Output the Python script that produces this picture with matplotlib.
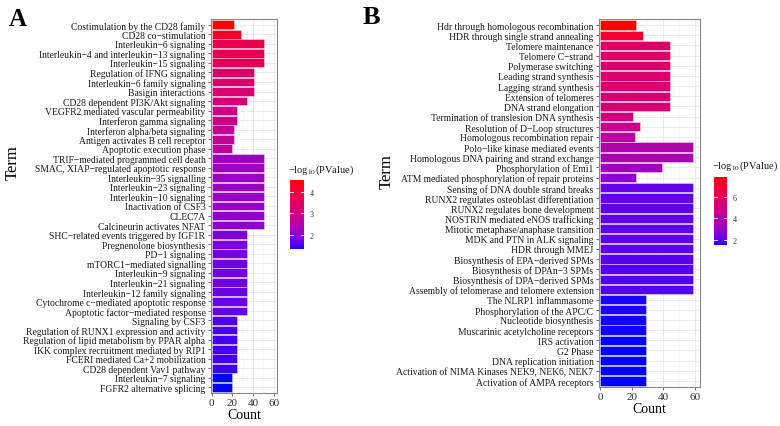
import numpy as np
import matplotlib
matplotlib.use("Agg")
import matplotlib.pyplot as plt
from matplotlib.colors import ListedColormap, Normalize
from matplotlib.cm import ScalarMappable

plt.rcParams['font.family'] = ['Liberation Serif', 'DejaVu Serif']
plt.rcParams['mathtext.fontset'] = 'stix'

# ---------------- data ----------------
terms_a = [
    "Costimulation by the CD28 family", "CD28 co\u2212stimulation", "Interleukin\u22126 signaling",
    "Interleukin\u22124 and interleukin\u221213 signaling", "Interleukin\u221215 signaling",
    "Regulation of IFNG signaling", "Interleukin\u22126 family signaling", "Basigin interactions",
    "CD28 dependent PI3K/Akt signaling", "VEGFR2 mediated vascular permeability",
    "Interferon gamma signaling", "Interferon alpha/beta signaling", "Antigen activates B cell receptor",
    "Apoptotic execution phase", "TRIF\u2212mediated programmed cell death",
    "SMAC, XIAP\u2212regulated apoptotic response", "Interleukin\u221235 signalling",
    "Interleukin\u221223 signaling", "Interleukin\u221210 signaling", "Inactivation of CSF3", "CLEC7A",
    "Calcineurin activates NFAT", "SHC\u2212related events triggered by IGF1R", "Pregnenolone biosynthesis",
    "PD\u22121 signaling", "mTORC1\u2212mediated signalling", "Interleukin\u22129 signaling",
    "Interleukin\u221221 signaling", "Interleukin\u221212 family signaling",
    "Cytochrome c\u2212mediated apoptotic response", "Apoptotic factor\u2212mediated response",
    "Signaling by CSF3", "Regulation of RUNX1 expression and activity",
    "Regulation of lipid metabolism by PPAR alpha", "IKK complex recruitment mediated by RIP1",
    "FCERI mediated Ca+2 mobilization", "CD28 dependent Vav1 pathway", "Interleukin\u22127 signaling",
    "FGFR2 alternative splicing",
]
count_a = [22, 28, 51, 51, 51, 41, 41, 41, 34, 25, 25, 22, 22, 20,
           51, 51, 51, 51, 51, 51, 51, 51,
           34, 34, 34, 34, 34, 34, 34, 34, 34,
           25, 25, 25, 25, 25, 25, 20, 20]
logp_a = [4.55, 4.25, 3.75, 3.7, 3.65, 3.4, 3.35, 3.3, 3.15, 3.0, 2.95, 2.85, 2.8, 2.7,
          2.2, 2.18, 2.15, 2.12, 2.1, 2.08, 2.05, 2.02,
          1.82, 1.8, 1.78, 1.76, 1.74, 1.72, 1.7, 1.68, 1.66,
          1.52, 1.51, 1.5, 1.49, 1.48, 1.47, 1.36, 1.35]

terms_b = [
    "Hdr through homologous recombination", "HDR through single strand annealing",
    "Telomere maintenance", "Telomere C\u2212strand", "Polymerase switching", "Leading strand synthesis",
    "Lagging strand synthesis", "Extension of telomeres", "DNA strand elongation",
    "Termination of translesion DNA synthesis", "Resolution of D\u2212Loop structures",
    "Homologous recombination repair", "Polo\u2212like kinase mediated events",
    "Homologous DNA pairing and strand exchange", "Phosphorylation of Emi1",
    "ATM mediated phosphorylation of repair proteins", "Sensing of DNA double strand breaks",
    "RUNX2 regulates osteoblast differentiation", "RUNX2 regulates bone development",
    "NOSTRIN mediated eNOS trafficking", "Mitotic metaphase/anaphase transition",
    "MDK and PTN in ALK signaling", "HDR through MMEJ", "Biosynthesis of EPA\u2212derived SPMs",
    "Biosynthesis of DPAn\u22123 SPMs", "Biosynthesis of DPA\u2212derived SPMs",
    "Assembly of telomerase and telomere extension", "The NLRP1 inflammasome",
    "Phosphorylation of the APC/C", "Nucleotide biosynthesis", "Muscarinic acetylcholine receptors",
    "IRS activation", "G2 Phase", "DNA replication initiation",
    "Activation of NIMA Kinases NEK9, NEK6, NEK7", "Activation of AMPA receptors",
]
count_b = [23, 27, 44, 44, 44, 44, 44, 44, 44, 21, 25, 22, 59, 59, 39, 23,
           59, 59, 59, 59, 59, 59, 59, 59, 59, 59, 59,
           29, 29, 29, 29, 29, 29, 29, 29, 29]
logp_b = [7.86, 7.0, 5.6, 5.55, 5.5, 5.45, 5.4, 5.35, 5.3, 5.0, 4.6, 4.3, 3.7, 3.6, 3.2, 2.8,
          2.1, 2.08, 2.06, 2.04, 2.02, 2.0, 1.98, 1.96, 1.94, 1.92, 1.9,
          1.56, 1.55, 1.54, 1.53, 1.52, 1.52, 1.51, 1.5, 1.5]

x_ticks = [0, 20, 40, 60]
cbar_ticks_a = [2, 3, 4]
cbar_ticks_b = [2, 4, 6]


# ------------- Lab gradient (blue -> red) -------------
def srgb_to_lab(c):
    c = np.asarray(c, float)
    lin = np.where(c <= 0.04045, c / 12.92, ((c + 0.055) / 1.055) ** 2.4)
    M = np.array([[0.4124, 0.3576, 0.1805], [0.2126, 0.7152, 0.0722], [0.0193, 0.1192, 0.9505]])
    xyz = M @ lin
    wp = np.array([0.95047, 1.0, 1.08883])
    t = xyz / wp
    f = np.where(t > (6 / 29) ** 3, np.cbrt(t), t / (3 * (6 / 29) ** 2) + 4 / 29)
    return np.array([116 * f[1] - 16, 500 * (f[0] - f[1]), 200 * (f[1] - f[2])])


def lab_to_srgb(lab):
    L, a, b = lab
    fy_ = (L + 16) / 116
    fx_ = fy_ + a / 500
    fz_ = fy_ - b / 200
    def finv(f):
        return np.where(f > 6 / 29, f ** 3, 3 * (6 / 29) ** 2 * (f - 4 / 29))
    wp = np.array([0.95047, 1.0, 1.08883])
    xyz = np.array([finv(fx_), finv(fy_), finv(fz_)]) * wp
    Minv = np.array([[3.2406, -1.5372, -0.4986], [-0.9689, 1.8758, 0.0415], [0.0557, -0.2040, 1.0570]])
    lin = Minv @ xyz
    lin = np.clip(lin, 0, 1)
    c = np.where(lin <= 0.0031308, 12.92 * lin, 1.055 * lin ** (1 / 2.4) - 0.055)
    return np.clip(c, 0, 1)


lab_lo = srgb_to_lab([0, 0, 1])
lab_hi = srgb_to_lab([1, 0, 0])
cols = [lab_to_srgb(lab_lo + (lab_hi - lab_lo) * t) for t in np.linspace(0, 1, 256)]
cmap = ListedColormap(cols)

W, H = 780, 427
fig = plt.figure(figsize=(W / 100, H / 100), dpi=100)


def fx(px):
    return px / W


def fy(py):
    return 1 - py / H


def panel(ax, terms, counts, vals, vmin, vmax):
    n = len(terms)
    norm = Normalize(vmin, vmax)
    y = np.arange(n)
    ax.set_axisbelow(True)
    ax.barh(y, counts, height=0.92, color=cmap(norm(np.array(vals))),
            edgecolor=(1, 1, 1, 0.45), linewidth=0.6, zorder=2)
    ax.set_ylim(n - 0.4, -0.6)
    ax.set_xlim(-0.6, 63.2)
    ax.set_yticks(y)
    ax.set_yticklabels(terms, fontsize=6.9, color='#1a1a1a')
    ax.set_xticks(x_ticks)
    ax.set_xticks([10, 30, 50], minor=True)
    ax.set_xticklabels([str(t) for t in x_ticks], fontsize=8, color='#333333')
    ax.tick_params(axis='both', which='major', length=2.5, width=0.6, color='#555555', pad=1.5)
    ax.tick_params(axis='x', which='minor', length=0)
    ax.tick_params(axis='x', pad=1)
    ax.grid(True, which='major', color='#e6e6e6', linewidth=0.6, zorder=0)
    ax.grid(True, which='minor', axis='x', color='#f2f2f2', linewidth=0.4, zorder=0)
    for s in ax.spines.values():
        s.set_color('#888888')
        s.set_linewidth(0.8)
    ax.set_xlabel('Count', fontsize=10, labelpad=0.5)
    return norm


def cbar(x0, x1, y0, y1, vmin, vmax, ticks, title_y, title_x):
    cax = fig.add_axes([fx(x0), fy(y1), fx(x1) - fx(x0), fy(y0) - fy(y1)])
    sm = ScalarMappable(norm=Normalize(vmin, vmax), cmap=cmap)
    cb = fig.colorbar(sm, cax=cax)
    cb.outline.set_visible(False)
    cb.set_ticks(ticks)
    cax.tick_params(length=0, labelsize=5.8, labelcolor='#333333', pad=4)
    for t in ticks:
        cax.plot([0, 0.22], [t, t], color='white', lw=0.6, transform=cax.get_yaxis_transform())
        cax.plot([0.78, 1], [t, t], color='white', lw=0.6, transform=cax.get_yaxis_transform())
    fig.text(fx(title_x), fy(title_y), '\u2212log$_{10}$(PValue)', fontsize=7.5,
             ha='left', va='center', color='#1a1a1a')


# Panel A
axA = fig.add_axes([fx(211), fy(394), fx(277) - fx(211), fy(20) - fy(394)])
panel(axA, terms_a, count_a, logp_a, min(logp_a), max(logp_a))
cbar(290, 304, 180.7, 250, min(logp_a), max(logp_a), cbar_ticks_a, 170, 288)
fig.text(fx(13), fy(163), 'Term', fontsize=12, rotation=90, ha='center', va='center')
fig.text(fx(17.5), fy(20), 'A', fontsize=18, fontweight='bold', ha='center', va='center')

# Panel B
axB = fig.add_axes([fx(599), fy(388), fx(700) - fx(599), fy(20) - fy(388)])
panel(axB, terms_b, count_b, logp_b, min(logp_b), max(logp_b))
cbar(714, 727.3, 177.7, 246, min(logp_b), max(logp_b), cbar_ticks_b, 166.7, 712)
fig.text(fx(386.7), fy(172), 'Term', fontsize=12, rotation=90, ha='center', va='center')
fig.text(fx(371.7), fy(18), 'B', fontsize=19, fontweight='bold', ha='center', va='center')

fig.savefig('out.png', dpi=100)
